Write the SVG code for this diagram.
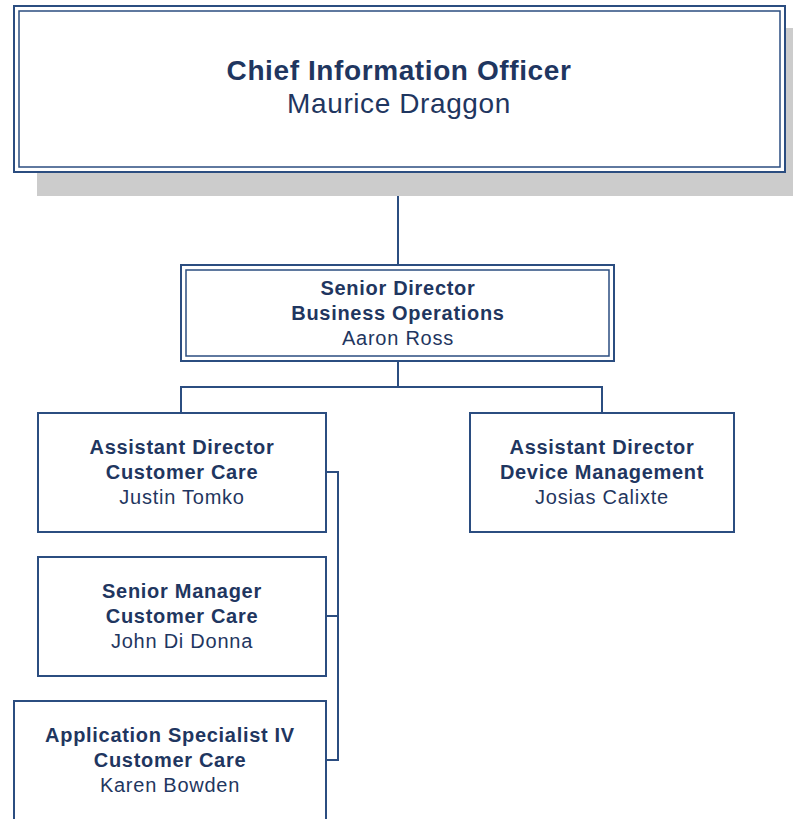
<svg xmlns="http://www.w3.org/2000/svg" width="793" height="819" viewBox="0 0 793 819">
<style>
.box{fill:#ffffff;stroke:#2b4d80;stroke-width:2}
.inner{fill:none;stroke:#2b4d80;stroke-width:1.5}
.ln{fill:none;stroke:#2b4d80;stroke-width:2}
text{font-family:"Liberation Sans",Arial,sans-serif;fill:#1f3660;text-anchor:middle}
.b{font-weight:bold;font-size:20px;letter-spacing:0.7px}
.r{font-size:20px;letter-spacing:0.75px}
.tb{font-weight:bold;font-size:28px;letter-spacing:0.6px}
.tr{font-size:28px;letter-spacing:0.6px}
</style>
<rect width="793" height="819" fill="#ffffff"/>
<g id="connectors">
<path class="ln" d="M398,172 V265"/>
<path class="ln" d="M398,361 V387 M181,412 V387 H602 V412"/>
<path class="ln" d="M326,472 H338 V760 H326 M326,616 H338"/>
</g>
<g id="cio">
<rect x="37" y="28" width="760" height="168" fill="#cccccc"/>
<rect class="box" x="14" y="6" width="771" height="166"/>
<rect class="inner" x="19" y="11" width="761" height="156"/>
<text class="tb" x="399" y="80">Chief Information Officer</text>
<text class="tr" x="399" y="113">Maurice Draggon</text>
</g>
<g id="senior-director">
<rect class="box" x="181" y="265" width="433" height="96"/>
<rect class="inner" x="186" y="270" width="423" height="86"/>
<text class="b" x="398" y="295">Senior Director</text>
<text class="b" x="398" y="320">Business Operations</text>
<text class="r" x="398" y="345">Aaron Ross</text>
</g>
<g id="ad-customer-care">
<rect class="box" x="38" y="413" width="288" height="119"/>
<text class="b" x="182" y="454">Assistant Director</text>
<text class="b" x="182" y="479">Customer Care</text>
<text class="r" x="182" y="504">Justin Tomko</text>
</g>
<g id="ad-device-management">
<rect class="box" x="470" y="413" width="264" height="119"/>
<text class="b" x="602" y="454">Assistant Director</text>
<text class="b" x="602" y="479">Device Management</text>
<text class="r" x="602" y="504">Josias Calixte</text>
</g>
<g id="senior-manager">
<rect class="box" x="38" y="557" width="288" height="119"/>
<text class="b" x="182" y="598">Senior Manager</text>
<text class="b" x="182" y="623">Customer Care</text>
<text class="r" x="182" y="648">John Di Donna</text>
</g>
<g id="app-specialist">
<rect class="box" x="14" y="701" width="312" height="130"/>
<text class="b" x="170" y="742">Application Specialist IV</text>
<text class="b" x="170" y="767">Customer Care</text>
<text class="r" x="170" y="792">Karen Bowden</text>
</g>
</svg>
